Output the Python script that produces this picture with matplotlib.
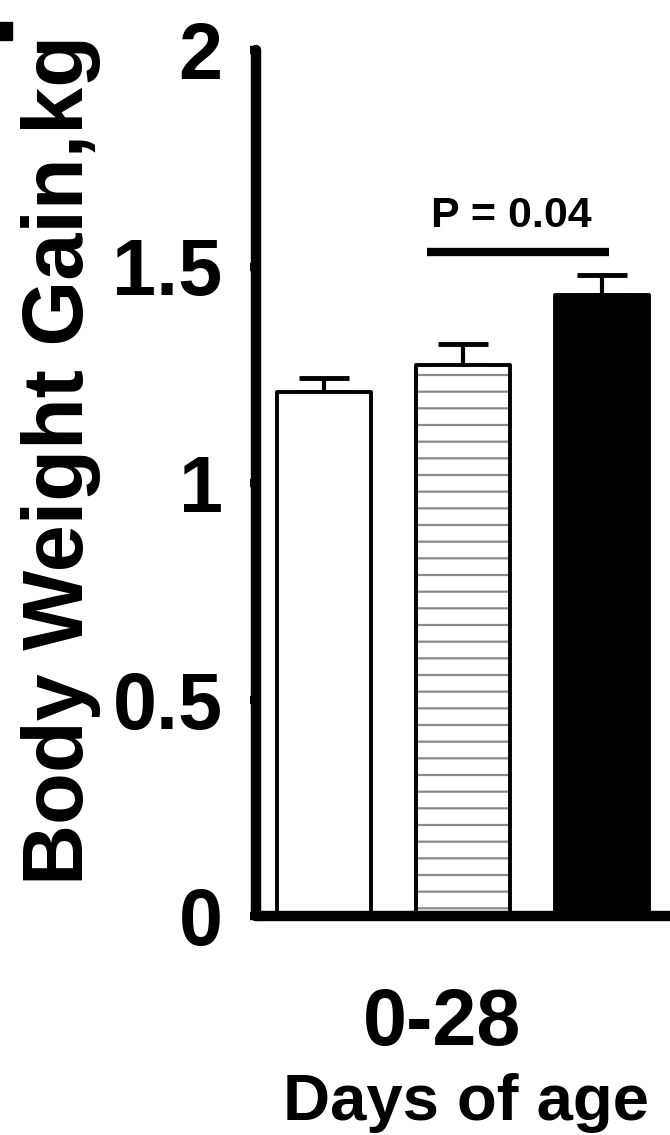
import matplotlib
matplotlib.use("Agg")
import matplotlib.pyplot as plt
from matplotlib.patches import Rectangle

# Data
groups = ["Group 1", "Group 2", "Group 3"]
means = [1.21, 1.273, 1.434]
sems = [0.032, 0.048, 0.046]
y_ticks = [0, 0.5, 1, 1.5, 2]
y_tick_labels = ["0", "0.5", "1", "1.5", "2"]
period_label = "0-28"
x_title = "Days of age"
y_title = "Body Weight Gain,kg"
p_text = "P = 0.04"
p_line_x = [0.74, 2.05]
p_line_y = 1.533

plt.rcParams['font.family'] = ['Liberation Sans', 'DejaVu Sans']
plt.rcParams['font.weight'] = 'bold'
plt.rcParams['hatch.linewidth'] = 1.6

fig = plt.figure(figsize=(6.7, 11.35), dpi=100)
ax = fig.add_axes([256/670, 1 - 916/1135, 1 - 256/670, (916-50)/1135])

x = list(range(len(groups)))
w = 0.68
# error bars (upper only)
ax.errorbar(x, means, yerr=[[0]*len(sems), sems], fmt='none', ecolor='black',
            elinewidth=3, capsize=18, capthick=3.5, zorder=1)
# bar 1: white
ax.bar(x[0], means[0], width=w, color='white', edgecolor='black', linewidth=2.8,
       joinstyle='round', zorder=2)
# bar 2: dotted horizontal hatch
ax.bar(x[1], means[1], width=w, color='white', edgecolor='#8a8a8a', linewidth=0,
       hatch='-', zorder=2)
ax.bar(x[1], means[1], width=w, fill=False, edgecolor='black', linewidth=2.8,
       joinstyle='round', zorder=3)
# bar 3: black
ax.bar(x[2], means[2], width=w, color='black', edgecolor='black', linewidth=2.8,
       joinstyle='round', zorder=2)

# significance line
ax.plot(p_line_x, [p_line_y, p_line_y], color='black', lw=6, solid_capstyle='butt')
ax.text(1.35, 1.592, p_text, ha='center', va='baseline',
        fontsize=31, fontweight='bold')

ax.set_xlim(-0.49, 2.49)
ax.set_ylim(0, 2)
ax.set_yticks(y_ticks)
ax.set_yticklabels(y_tick_labels, fontsize=57, fontweight='bold')
ax.set_xticks([])
for s in ['top', 'right']:
    ax.spines[s].set_visible(False)
for s in ['left', 'bottom']:
    ax.spines[s].set_linewidth(7.5)
    ax.spines[s].set_capstyle('round')
ax.tick_params(axis='y', direction='out', length=4, width=6, pad=20)

ax.text(-0.472, 0.527, y_title, transform=ax.transAxes, rotation=90,
        ha='center', va='center', fontsize=61, fontweight='bold')
fig.text(442/670, 1 - 1025/1135, period_label, ha='center', va='center',
         fontsize=57, fontweight='bold')
fig.text(466/670, 1 - 1103/1135, x_title, ha='center', va='center',
         fontsize=47, fontweight='bold')

# fragment of panel letter at top-left
fig.add_artist(Rectangle((0, 1 - 40/1135), 12/670, 18/1135, transform=fig.transFigure,
                         color='black'))

fig.savefig("out.png", dpi=100)
